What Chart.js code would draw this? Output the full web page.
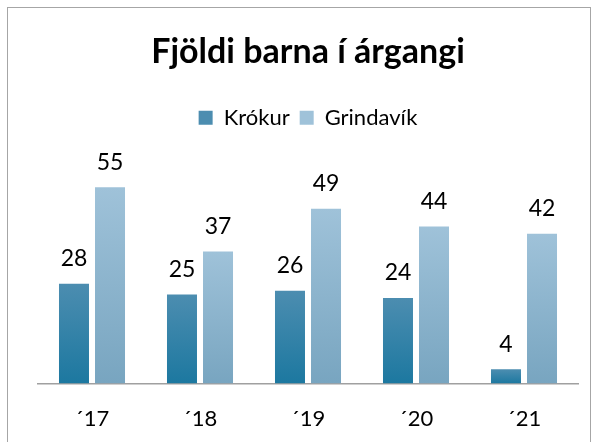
<!DOCTYPE html>
<html>
<head>
<meta charset="utf-8">
<script src="https://cdn.jsdelivr.net/npm/chart.js@4"></script>
<style>
  html, body { margin: 0; padding: 0; background: #fff; }
  #wrap { width: 600px; height: 442px; position: relative; }
</style>
</head>
<body>
<div id="wrap"><canvas id="chart1"></canvas></div>
<script>
// data
const labels = ['\u00B417', '\u00B418', '\u00B419', '\u00B420', '\u00B421'];
const krokur = [28, 25, 26, 24, 4];
const grindavik = [55, 37, 49, 44, 42];

// top / bottom colours of the bar gradients
const krokurColors = ['#4c8db0', '#1c78a0'];
const grindColors = ['#9fc2d9', '#78a5c0'];

function barGradient(colors) {
	return (c) => {
		const chart = c.chart;
		if (c.type !== 'data' || !chart.chartArea) return colors[1];
		const y = chart.scales.y;
		const top = y.getPixelForValue(c.raw);
		const bottom = y.getPixelForValue(0);
		const g = chart.ctx.createLinearGradient(0, top, 0, bottom);
		g.addColorStop(0, colors[0]);
		g.addColorStop(1, colors[1]);
		return g;
	};
}

// frame + white background
const framePlugin = {
	id: 'frame',
	beforeDraw(chart) {
		const ctx = chart.ctx;
		ctx.save();
		ctx.fillStyle = '#fff';
		ctx.fillRect(0, 0, chart.width, chart.height);
		ctx.strokeStyle = '#a6a6a6';
		ctx.lineWidth = 1;
		ctx.strokeRect(7.5, 7.5, 583, 440);
		ctx.restore();
	}
};

// value labels above bars
const valuePlugin = {
	id: 'values',
	afterDatasetsDraw(chart) {
		const ctx = chart.ctx;
		ctx.save();
		ctx.font = '23px Lato';
		ctx.fillStyle = '#000';
		ctx.textAlign = 'center';
		ctx.textBaseline = 'middle';
		chart.data.datasets.forEach((ds, i) => {
			chart.getDatasetMeta(i).data.forEach((bar, j) => {
				ctx.fillText(ds.data[j], bar.x, bar.y - 25);
			});
		});
		ctx.restore();
	}
};

const ctx = document.getElementById('chart1').getContext('2d');
const myChart = new Chart(ctx, {
	type: 'bar',
	data: {
		labels,
		datasets: [
			{
				label: 'Krókur',
				data: krokur,
				backgroundColor: barGradient(krokurColors)
			},
			{
				label: 'Grindavík',
				data: grindavik,
				backgroundColor: barGradient(grindColors)
			}
		]
	},
	options: {
		responsive: true,
		maintainAspectRatio: false,
		animation: false,
		categoryPercentage: 0.667,
		barPercentage: 0.833,
		layout: { padding: { top: 10, left: 38, right: 22, bottom: -12 } },
		plugins: {
			tooltip: { enabled: false },
			title: {
				display: true,
				text: 'Fjöldi barna í árgangi',
				color: '#000',
				font: { family: 'Lato', size: 34, weight: 'bold' },
				padding: { top: 22, bottom: 24 }
			},
			legend: {
				display: true,
				labels: {
					color: '#000',
					font: { family: 'Lato', size: 22 },
					boxWidth: 14,
					boxHeight: 14,
					padding: 10
				}
			}
		},
		scales: {
			y: {
				display: false,
				min: 0,
				max: 68.6
			},
			x: {
				grid: { display: false, drawTicks: false },
				border: { display: true, color: '#a0a0a0', width: 1.5 },
				ticks: {
					color: '#000',
					padding: 22,
					font: { family: 'Lato', size: 22 }
				}
			}
		}
	},
	plugins: [framePlugin, valuePlugin]
});
</script>
</body>
</html>
